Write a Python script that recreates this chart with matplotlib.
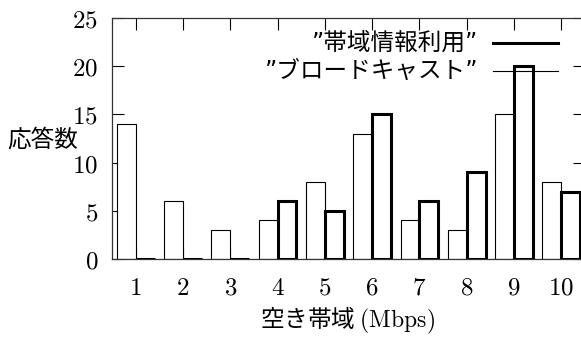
import matplotlib
matplotlib.use("Agg")
import matplotlib.pyplot as plt
import numpy as np
from matplotlib.lines import Line2D

plt.rcParams['mathtext.fontset'] = 'cm'

categories = [1, 2, 3, 4, 5, 6, 7, 8, 9, 10]
bandwidth_info = [14, 6, 3, 4, 8, 13, 4, 3, 15, 8]      # 帯域情報利用
broadcast = [0, 0, 0, 6, 5, 15, 6, 9, 20, 7]            # ブロードキャスト
yticks = [0, 5, 10, 15, 20, 25]

W, H = 581, 338
fig = plt.figure(figsize=(W / 100, H / 100), dpi=100)
x0, x1 = 112, 585
y0, y1 = 259, 18
ax = fig.add_axes([x0 / W, 1 - y0 / H, (x1 - x0) / W, (y0 - y1) / H])

x = np.array(categories, dtype=float)
bw = 0.4
ax.bar(x, bandwidth_info, width=-bw, align='edge', facecolor='white',
       edgecolor='black', linewidth=0.8, zorder=2)
ax.bar(x, broadcast, width=bw, align='edge', facecolor='white',
       edgecolor='black', linewidth=2.2, zorder=3)

ax.set_xlim(0.5, 10.5)
ax.set_ylim(0, 25)
ax.set_xticks(categories)
ax.set_xticklabels([f'${c}$' for c in categories])
ax.set_yticks(yticks)
ax.set_yticklabels([f'${v}$' for v in yticks])
ax.tick_params(direction='in', length=8.5, width=0.8, top=True, right=True,
               labelsize=18, colors='black')
ax.tick_params(axis='y', pad=10)
ax.tick_params(axis='x', pad=12)
for s in ax.spines.values():
    s.set_linewidth(0.9)
    s.set_color('#333333')

jp = ['DejaVu Sans', 'Noto Sans CJK JP']
fig.text(7 / W, 1 - 140 / H, '応答数', family=['Noto Sans CJK JP'], fontsize=17,
         ha='left', va='center')
fig.text(347 / W, 1 - 320 / H, '空き帯域 $\\mathrm{(Mbps)}$', family=['Noto Sans CJK JP'],
         fontsize=17, ha='center', va='center')

# legend
fig.text(478 / W, 1 - 43 / H, '”帯域情報利用”', family=jp, fontsize=17,
         ha='right', va='center')
fig.text(478 / W, 1 - 71 / H, '”ブロードキャスト”', family=jp, fontsize=17,
         ha='right', va='center')
fig.add_artist(Line2D([493 / W, 558 / W], [1 - 43 / H, 1 - 43 / H], color='black', lw=2.2))
fig.add_artist(Line2D([493 / W, 558 / W], [1 - 71 / H, 1 - 71 / H], color='black', lw=0.8))

fig.savefig('out.png', dpi=100)
